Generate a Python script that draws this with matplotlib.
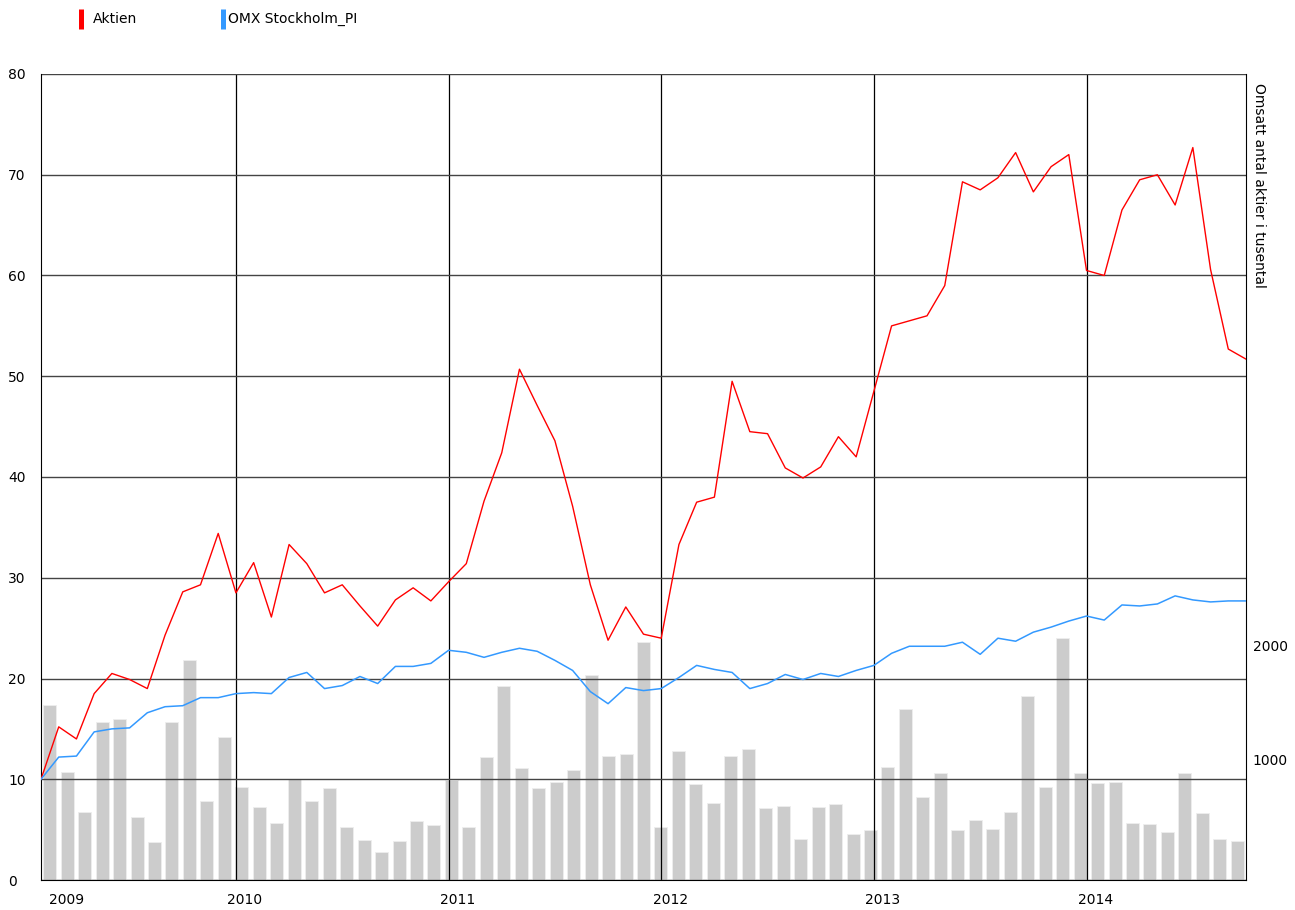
import matplotlib
matplotlib.use('Agg')
import numpy as np
from matplotlib import pyplot as plt
from matplotlib.lines import Line2D

# månadsvärden, index 0 = jan 2009 ... 68 = sep 2014
aktien = [10.0, 15.2, 14.0, 18.5, 20.5, 19.9, 19.0, 24.3, 28.6, 29.3,
          34.4, 28.5, 31.5, 26.1, 33.3, 31.4, 28.5, 29.3, 27.2, 25.2,
          27.8, 29.0, 27.7, 29.6, 31.4, 37.6, 42.4, 50.7, 47.1, 43.6,
          37.1, 29.3, 23.8, 27.1, 24.4, 24.0, 33.3, 37.5, 38.0, 49.5,
          44.5, 44.3, 40.9, 39.9, 41.0, 44.0, 42.0, 48.5, 55.0, 55.5,
          56.0, 59.0, 69.3, 68.5, 69.7, 72.2, 68.3, 70.8, 72.0, 60.5,
          60.0, 66.5, 69.5, 70.0, 67.0, 72.7, 60.6, 52.7, 51.7]

omx = [10.0, 12.2, 12.3, 14.7, 15.0, 15.1, 16.6, 17.2, 17.3, 18.1,
       18.1, 18.5, 18.6, 18.5, 20.1, 20.6, 19.0, 19.3, 20.2, 19.5,
       21.2, 21.2, 21.5, 22.8, 22.6, 22.1, 22.6, 23.0, 22.7, 21.8,
       20.8, 18.7, 17.5, 19.1, 18.8, 19.0, 20.1, 21.3, 20.9, 20.6,
       19.0, 19.5, 20.4, 19.9, 20.5, 20.2, 20.8, 21.3, 22.5, 23.2,
       23.2, 23.2, 23.6, 22.4, 24.0, 23.7, 24.6, 25.1, 25.7, 26.2,
       25.8, 27.3, 27.2, 27.4, 28.2, 27.8, 27.6, 27.7, 27.7]

# omsatt antal aktier i tusental
volym = [1478, 890, 537, 1330, 1354, 491, 273, 1333, 1874, 637,
         1201, 758, 579, 441, 826, 634, 749, 403, 288, 185,
         279, 458, 420, 819, 405, 1022, 1648, 925, 752, 802,
         907, 1742, 1031, 1046, 2033, 403, 1075, 782, 617, 1033,
         1090, 573, 588, 300, 584, 608, 341, 379, 931, 1445,
         670, 878, 379, 467, 385, 535, 1559, 760, 2068, 881,
         790, 804, 438, 432, 364, 878, 531, 300, 282]

year_labels = ['2009', '2010', '2011', '2012', '2013', '2014']
year_start = [11, 23, 35, 47, 59]  # index för 1 januari
series_names = ['Aktien', 'OMX Stockholm_PI']
series_colors = ['#ff0000', '#3399ff']

plt.rcParams['font.family'] = ['DejaVu Sans']
plt.rcParams['font.size'] = 10

fig = plt.figure(figsize=(12.95, 9.10), dpi=100)
ax = fig.add_axes([41 / 1295, 30 / 910, 1205 / 1295, 806 / 910])
ax2 = ax.twinx()
ax.set_zorder(ax2.get_zorder() + 1)
ax.patch.set_visible(False)

n = len(aktien)
x = np.arange(n)

# staplar fördelade jämnt över hela bredden
slot = (n - 1) / n
xb = (np.arange(n) + 0.5) * slot
vmin, vmax = -62, 7040
ax2.bar(xb, np.array(volym) - vmin, bottom=vmin, width=0.745 * slot,
        color='#cccccc', edgecolor='#eeeeee', linewidth=0.6, zorder=3)
ax2.set_ylim(vmin, vmax)
ax2.set_yticks([1000, 2000])
ax2.tick_params(axis='y', length=0, pad=4.8)
for s in ['top', 'left', 'right']:
    ax2.spines[s].set_visible(False)
ax2.spines['bottom'].set_color('black')

# linjer
ax.plot(x, aktien, color=series_colors[0], lw=1.0, zorder=4)
ax.plot(x, omx, color=series_colors[1], lw=1.1, zorder=4)

ax.set_xlim(0, n - 1)
ax.set_ylim(0, 80)
ax.set_yticks(range(0, 81, 10))
ax.yaxis.grid(True, color='#444444', lw=1.0)
ax.tick_params(axis='y', length=0, pad=23.8)
for lbl in ax.get_yticklabels():
    lbl.set_horizontalalignment('left')

ax.set_xticks(year_start)
ax.set_xticklabels([])
ax.set_xticks([1.46] + [v + 0.5 for v in year_start], minor=True)
ax.set_xticklabels(year_labels, minor=True)
ax.xaxis.grid(True, which='major', color='black', lw=0.9)
ax.tick_params(axis='x', which='both', length=0, pad=9.4)

ax.spines['top'].set_visible(False)
ax.spines['bottom'].set_visible(False)
ax.spines['left'].set_color('black')
ax.spines['right'].set_color('black')

# förklaring uppe till vänster
leg_x = [81.5, 222.5]
txt_x = [93, 228]
for name, col, lx, tx in zip(series_names, series_colors, leg_x, txt_x):
    fig.add_artist(Line2D([lx / 1295] * 2, [1 - 29 / 910, 1 - 9 / 910],
                          color=col, lw=3.6, solid_capstyle='butt',
                          transform=fig.transFigure))
    fig.text(tx / 1295, 1 - 19 / 910, name, va='center', ha='left')

fig.text(1252 / 1295, 1 - 83 / 910, 'Omsatt antal aktier i tusental',
         rotation=270, va='top', ha='left')

fig.savefig('out.png', dpi=100)
